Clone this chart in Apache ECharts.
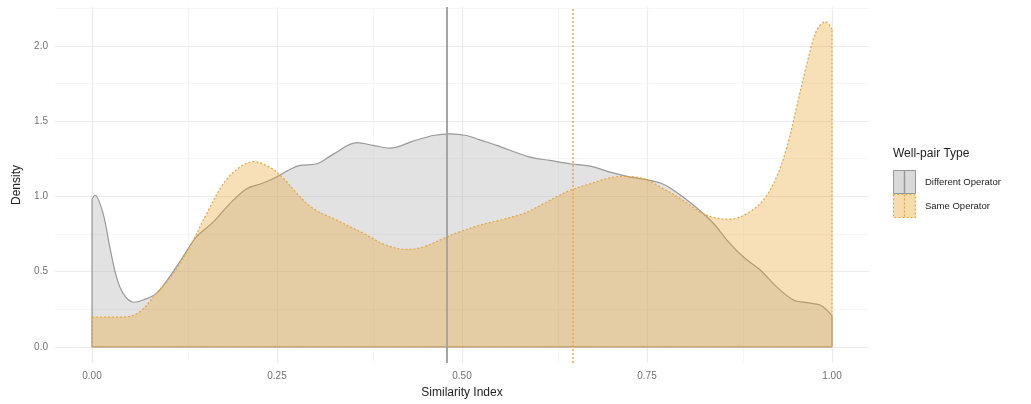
<!DOCTYPE html>
<html>
<head>
<meta charset="utf-8">
<script src="https://cdn.jsdelivr.net/npm/echarts@6/dist/echarts.min.js"></script>
<style>
  html, body { margin: 0; padding: 0; background: #fff; }
  #main { width: 1031px; height: 404px; }
</style>
</head>
<body>
<div id="main"></div>
<script>
// density
var diffX = [0, 0.004, 0.015, 0.024, 0.033, 0.042, 0.056, 0.069, 0.087, 0.105, 0.123, 0.141, 0.164, 0.186, 0.209, 0.231, 0.25, 0.268, 0.281, 0.304, 0.326, 0.358, 0.38, 0.403, 0.434, 0.461, 0.484, 0.506, 0.524, 0.547, 0.592, 0.619, 0.646, 0.673, 0.7, 0.723, 0.754, 0.77, 0.786, 0.813, 0.84, 0.858, 0.88, 0.903, 0.925, 0.948, 0.966, 0.984, 0.995, 1.0];
var diffY = [0.98, 1.007, 0.885, 0.664, 0.466, 0.355, 0.296, 0.311, 0.355, 0.466, 0.598, 0.73, 0.83, 0.95, 1.05, 1.088, 1.13, 1.18, 1.205, 1.216, 1.28, 1.356, 1.338, 1.32, 1.366, 1.404, 1.415, 1.404, 1.375, 1.338, 1.26, 1.238, 1.216, 1.2, 1.161, 1.132, 1.106, 1.085, 1.04, 0.94, 0.819, 0.709, 0.598, 0.51, 0.4, 0.311, 0.293, 0.278, 0.234, 0.205];
var sameX = [0, 0.03, 0.047, 0.065, 0.087, 0.11, 0.132, 0.155, 0.177, 0.196, 0.218, 0.241, 0.259, 0.277, 0.299, 0.331, 0.367, 0.398, 0.425, 0.448, 0.475, 0.497, 0.524, 0.551, 0.583, 0.61, 0.632, 0.646, 0.673, 0.7, 0.718, 0.745, 0.768, 0.795, 0.822, 0.84, 0.862, 0.885, 0.907, 0.925, 0.939, 0.952, 0.966, 0.979, 0.991, 1.0];
var sameY = [0.197, 0.197, 0.199, 0.234, 0.355, 0.488, 0.664, 0.885, 1.08, 1.18, 1.23, 1.19, 1.117, 1.018, 0.918, 0.841, 0.753, 0.675, 0.647, 0.664, 0.72, 0.764, 0.808, 0.841, 0.885, 0.95, 1.007, 1.04, 1.083, 1.123, 1.132, 1.117, 1.062, 0.985, 0.896, 0.859, 0.848, 0.885, 0.974, 1.128, 1.327, 1.59, 1.879, 2.1, 2.16, 2.11];

// mean lines
var diffMean = 0.484;
var sameMean = 0.645;

var xTicks = [0, 0.25, 0.5, 0.75, 1];
var xMinor = [0.125, 0.375, 0.625, 0.875];
var yTicks = [0, 0.5, 1, 1.5, 2];
var yMinor = [0.25, 0.75, 1.25, 1.75, 2.25];

var greyLine = '#999999';
var greyFill = 'rgba(185,185,185,0.6)';
var orangeLine = '#e8a43c';
var orangeFill = 'rgba(230,160,40,0.47)';

function pairs(xs, ys) {
    var out = [];
    for (var i = 0; i < xs.length; i++) out.push([xs[i], ys[i]]);
    return out;
}
// left edge, baseline, right edge of the full outline
function edges(xs, ys) {
    var n = xs.length - 1;
    return [[xs[0], ys[0]], [xs[0], 0], [xs[n], 0], [xs[n], ys[n]]];
}

var gridMarks = [];
xTicks.forEach(function (v) { gridMarks.push({ xAxis: v, lineStyle: { color: '#ebebeb', width: 1.2, type: 'solid' } }); });
xMinor.forEach(function (v) { gridMarks.push({ xAxis: v, lineStyle: { color: '#f4f4f4', width: 0.8, type: 'solid' } }); });
yTicks.forEach(function (v) { gridMarks.push({ yAxis: v, lineStyle: { color: '#ebebeb', width: 1.2, type: 'solid' } }); });
yMinor.forEach(function (v) { gridMarks.push({ yAxis: v, lineStyle: { color: '#f4f4f4', width: 0.8, type: 'solid' } }); });

var font = '"Liberation Sans", Arial, sans-serif';

var myChart = echarts.init(document.getElementById('main'));
var option = {
    animation: false,
    grid: { left: 55, right: 162, top: 7, bottom: 41 },
    xAxis: {
        type: 'value',
        min: -0.05,
        max: 1.05,
        name: 'Similarity Index',
        nameLocation: 'middle',
        nameGap: 24,
        nameTextStyle: { color: '#222', fontSize: 12, fontFamily: font },
        axisLine: { show: false },
        axisTick: { show: false },
        splitLine: { show: false },
        axisLabel: {
            customValues: xTicks,
            margin: 8,
            color: '#707070',
            fontSize: 10,
            fontFamily: font,
            formatter: function (v) { return v.toFixed(2); }
        }
    },
    yAxis: {
        type: 'value',
        min: -0.1075,
        max: 2.2575,
        name: 'Density',
        nameLocation: 'middle',
        nameGap: 32,
        nameRotate: 90,
        nameTextStyle: { color: '#222', fontSize: 12, fontFamily: font },
        axisLine: { show: false },
        axisTick: { show: false },
        splitLine: { show: false },
        axisLabel: {
            customValues: yTicks,
            margin: 7,
            color: '#707070',
            fontSize: 10,
            fontFamily: font,
            formatter: function (v) { return v.toFixed(1); }
        }
    },
    series: [
        {
            name: 'grid',
            type: 'line',
            data: [],
            z: 0,
            silent: true,
            markLine: { z: 0, silent: true, symbol: 'none', label: { show: false }, data: gridMarks }
        },
        {
            name: 'Different Operator',
            type: 'line',
            z: 2,
            smooth: 0.35,
            showSymbol: false,
            data: pairs(diffX, diffY),
            lineStyle: { color: greyLine, width: 1.2 },
            areaStyle: { color: greyFill, origin: 0 }
        },
        {
            name: 'Different Operator edge',
            type: 'line',
            z: 2,
            showSymbol: false,
            data: edges(diffX, diffY),
            lineStyle: { color: greyLine, width: 1.2 }
        },
        {
            name: 'Same Operator',
            type: 'line',
            z: 3,
            smooth: 0.35,
            showSymbol: false,
            data: pairs(sameX, sameY),
            lineStyle: { color: orangeLine, width: 1.2, type: [2, 2] },
            areaStyle: { color: orangeFill, origin: 0 }
        },
        {
            name: 'Same Operator edge',
            type: 'line',
            z: 3,
            showSymbol: false,
            data: edges(sameX, sameY),
            lineStyle: { color: orangeLine, width: 1.2, type: [2, 2] }
        },
        {
            name: 'means',
            type: 'line',
            data: [],
            z: 4,
            markLine: {
                z: 10,
                silent: true,
                symbol: 'none',
                label: { show: false },
                data: [
                    { xAxis: diffMean, lineStyle: { color: '#a5a5a5', width: 2, type: 'solid' } },
                    { xAxis: sameMean, lineStyle: { color: '#eca83e', width: 1.5, type: [2, 2] } }
                ]
            }
        }
    ],
    graphic: [
        { type: 'text', left: 893, top: 148, style: { text: 'Well-pair Type', fontSize: 12, fontFamily: font, fill: '#222' } },
        { type: 'rect', shape: { x: 893.5, y: 170.5, width: 22, height: 23 }, style: { fill: '#d9d9d9', stroke: greyLine, lineWidth: 1 } },
        { type: 'line', shape: { x1: 904.5, y1: 170.5, x2: 904.5, y2: 193.5 }, style: { stroke: greyLine, lineWidth: 1.5 } },
        { type: 'rect', shape: { x: 893.5, y: 194.5, width: 22, height: 23 }, style: { fill: '#f4dcab', stroke: orangeLine, lineWidth: 1.2, lineDash: [2, 2] } },
        { type: 'line', shape: { x1: 904.5, y1: 194.5, x2: 904.5, y2: 217.5 }, style: { stroke: orangeLine, lineWidth: 1.2, lineDash: [2, 2] } },
        { type: 'text', left: 925, top: 177, style: { text: 'Different Operator', fontSize: 9.5, fontFamily: font, fill: '#222' } },
        { type: 'text', left: 925, top: 201, style: { text: 'Same Operator', fontSize: 9.5, fontFamily: font, fill: '#222' } }
    ]
};
myChart.setOption(option);
</script>
</body>
</html>
